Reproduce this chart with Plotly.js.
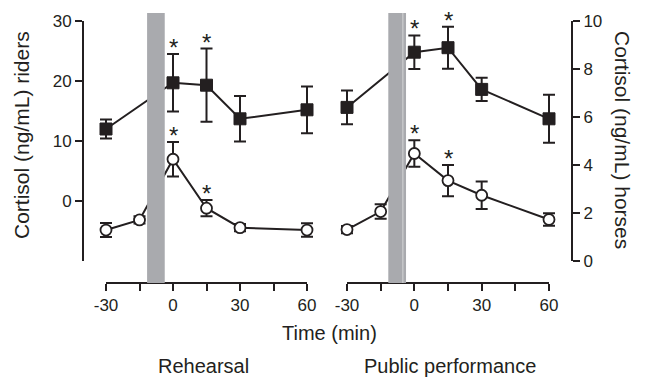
<!DOCTYPE html>
<html>
<head>
<meta charset="utf-8">
<script src="https://cdn.plot.ly/plotly-3.0.1.min.js"></script>
<style>html,body{margin:0;padding:0;background:#fff;}#chart{width:646px;height:380px;}</style>
</head>
<body>
<div id="chart"></div>
<script>
// ---- data ----
var ridersTimes = [-30, 0, 15, 30, 60];
var horsesTimes = [-30, -15, 0, 15, 30, 60];

// Rehearsal
var rehRidersMean = [12.0, 19.7, 19.3, 13.7, 15.2];
var rehRidersErr  = [1.6, 4.8, 6.1, 3.8, 3.9];
var rehRidersSig  = [false, true, true, false, false];
var rehHorsesMean = [1.29, 1.71, 4.24, 2.20, 1.39, 1.29];
var rehHorsesErr  = [0.29, 0.15, 0.72, 0.34, 0.15, 0.28];
var rehHorsesSig  = [false, false, true, true, false, false];

// Public performance
var pubRidersMean = [15.6, 24.8, 25.55, 18.6, 13.7];
var pubRidersErr  = [2.8, 2.8, 3.5, 1.95, 4.0];
var pubRidersSig  = [false, true, true, false, false];
var pubHorsesMean = [1.31, 2.06, 4.48, 3.35, 2.74, 1.73];
var pubHorsesErr  = [0.15, 0.30, 0.55, 0.65, 0.57, 0.26];
var pubHorsesSig  = [false, false, true, true, false, false];

var xRange = [-30, 60];
var xTickVals = [-30, -15, 0, 15, 30, 45, 60];
var xTickText = ['-30', '', '0', '', '30', '', '60'];
var ridersTickVals = [0, 10, 20, 30];
var horsesTickVals = [0, 2, 4, 6, 8, 10];
var eventSpan = [-11.6, -3.7];   // grey bar (performance period), minutes

// ---- styling ----
var INK = '#231f20';
var W = 646, H = 380;
function px(x) { return x / W; }
function py(y) { return 1 - y / H; }
var FONT = 'Liberation Sans, Arial, Helvetica, sans-serif';

function series(x, y, err, xa, ya, filled) {
  return {
    type: 'scatter', mode: 'lines+markers', x: x, y: y, xaxis: xa, yaxis: ya,
    cliponaxis: false,
    line: {color: INK, width: 2},
    marker: filled ? {symbol: 'square', size: 12, color: INK, line: {color: INK, width: 1}}
                   : {symbol: 'circle', size: 11, color: '#ffffff', line: {color: INK, width: 1.8}},
    error_y: {type: 'data', array: err, visible: true, color: INK, thickness: 2, width: 6},
    hoverinfo: 'skip', showlegend: false
  };
}

var traces = [
  series(ridersTimes, rehRidersMean, rehRidersErr, 'x', 'y', true),
  series(horsesTimes, rehHorsesMean, rehHorsesErr, 'x', 'y2', false),
  series(ridersTimes, pubRidersMean, pubRidersErr, 'x2', 'y', true),
  series(horsesTimes, pubHorsesMean, pubHorsesErr, 'x2', 'y2', false),
  // empty traces so the visible time axes get drawn
  {type: 'scatter', mode: 'none', x: [], y: [], xaxis: 'x3', yaxis: 'y', showlegend: false, hoverinfo: 'skip'},
  {type: 'scatter', mode: 'none', x: [], y: [], xaxis: 'x4', yaxis: 'y', showlegend: false, hoverinfo: 'skip'}
];

var annotations = [];
function stars(x, mean, err, sig, xref, yref) {
  for (var i = 0; i < x.length; i++) {
    if (!sig[i]) continue;
    annotations.push({x: x[i], y: mean[i] + err[i], xref: xref, yref: yref,
      text: '*', showarrow: false, yanchor: 'bottom', xanchor: 'center', yshift: -9,
      font: {family: FONT, size: 24, color: INK}});
  }
}
stars(ridersTimes, rehRidersMean, rehRidersErr, rehRidersSig, 'x', 'y');
stars(horsesTimes, rehHorsesMean, rehHorsesErr, rehHorsesSig, 'x', 'y2');
stars(ridersTimes, pubRidersMean, pubRidersErr, pubRidersSig, 'x2', 'y');
stars(horsesTimes, pubHorsesMean, pubHorsesErr, pubHorsesSig, 'x2', 'y2');

var titleFont = {family: FONT, size: 20, color: INK};
var yTitleFont = {family: FONT, size: 21, color: INK};
annotations.push(
  {xref: 'paper', yref: 'paper', x: px(21), y: py(135), text: 'Cortisol (ng/mL) riders', textangle: -90,
   showarrow: false, xanchor: 'center', yanchor: 'middle', font: yTitleFont},
  {xref: 'paper', yref: 'paper', x: px(623), y: py(140), text: 'Cortisol (ng/mL) horses', textangle: 90,
   showarrow: false, xanchor: 'center', yanchor: 'middle', font: yTitleFont},
  {xref: 'paper', yref: 'paper', x: px(329), y: py(333), text: 'Time (min)',
   showarrow: false, xanchor: 'center', yanchor: 'middle', font: titleFont},
  {xref: 'paper', yref: 'paper', x: px(203), y: py(366), text: 'Rehearsal',
   showarrow: false, xanchor: 'center', yanchor: 'middle', font: titleFont},
  {xref: 'paper', yref: 'paper', x: px(450), y: py(366), text: 'Public performance',
   showarrow: false, xanchor: 'center', yanchor: 'middle', font: titleFont}
);

var shapes = [];
['x', 'x2'].forEach(function (xr) {
  shapes.push({type: 'rect', xref: xr, yref: 'paper', x0: eventSpan[0], x1: eventSpan[1],
    y0: py(283), y1: py(13), fillcolor: '#a9aaae', line: {width: 0}, layer: 'above'});
});
shapes.push({type: 'line', xref: 'x2', yref: 'paper', x0: eventSpan[1] - 1.4, x1: eventSpan[1] - 1.4,
  y0: py(283), y1: py(13), line: {color: '#d4d5d7', width: 1}, layer: 'above'});

var tickFont = {family: FONT, size: 17, color: INK};
// visible axis (exact range)
function xAxisShown(d0, d1) {
  return {domain: [px(d0), px(d1)], range: xRange, anchor: 'free', position: py(283),
    showline: true, linecolor: INK, linewidth: 2, ticks: 'outside', ticklen: 7, tickwidth: 2,
    tickcolor: INK, tickmode: 'array', tickvals: xTickVals, ticktext: xTickText,
    showgrid: false, zeroline: false, tickfont: tickFont, fixedrange: true};
}
// data axis: same scale, padded so end error bars are not clipped
function xAxisData(d0, d1) {
  var pad = 14, per = (xRange[1] - xRange[0]) / (d1 - d0);
  return {domain: [px(d0 - pad), px(d1 + pad)], range: [xRange[0] - pad * per, xRange[1] + pad * per],
    anchor: 'free', position: py(283), visible: false, showgrid: false, zeroline: false, fixedrange: true};
}

var layout = {
  width: W, height: H, margin: {l: 0, r: 0, t: 0, b: 0},
  paper_bgcolor: '#ffffff', plot_bgcolor: 'rgba(0,0,0,0)', showlegend: false,
  font: {family: FONT, color: INK},
  xaxis: xAxisData(106, 307),
  xaxis2: xAxisData(347, 549),
  xaxis3: xAxisShown(106, 307),
  xaxis4: xAxisShown(347, 549),
  yaxis: {domain: [py(261), py(21)], range: [-10, 30], anchor: 'free', position: px(83), side: 'left',
    showline: true, linecolor: INK, linewidth: 2, ticks: 'outside', ticklen: 7, tickwidth: 2, tickcolor: INK,
    tickmode: 'array', tickvals: ridersTickVals, showgrid: false, zeroline: false, tickfont: tickFont},
  yaxis2: {domain: [py(261), py(21)], range: [0, 10], anchor: 'free', position: px(572), side: 'right',
    overlaying: 'y', showline: true, linecolor: INK, linewidth: 2, ticks: 'outside', ticklen: 7, tickwidth: 2,
    tickcolor: INK, tickmode: 'array', tickvals: horsesTickVals, showgrid: false, zeroline: false, tickfont: tickFont},
  shapes: shapes,
  annotations: annotations
};

Plotly.newPlot('chart', traces, layout, {staticPlot: true, displayModeBar: false});
</script>
</body>
</html>
